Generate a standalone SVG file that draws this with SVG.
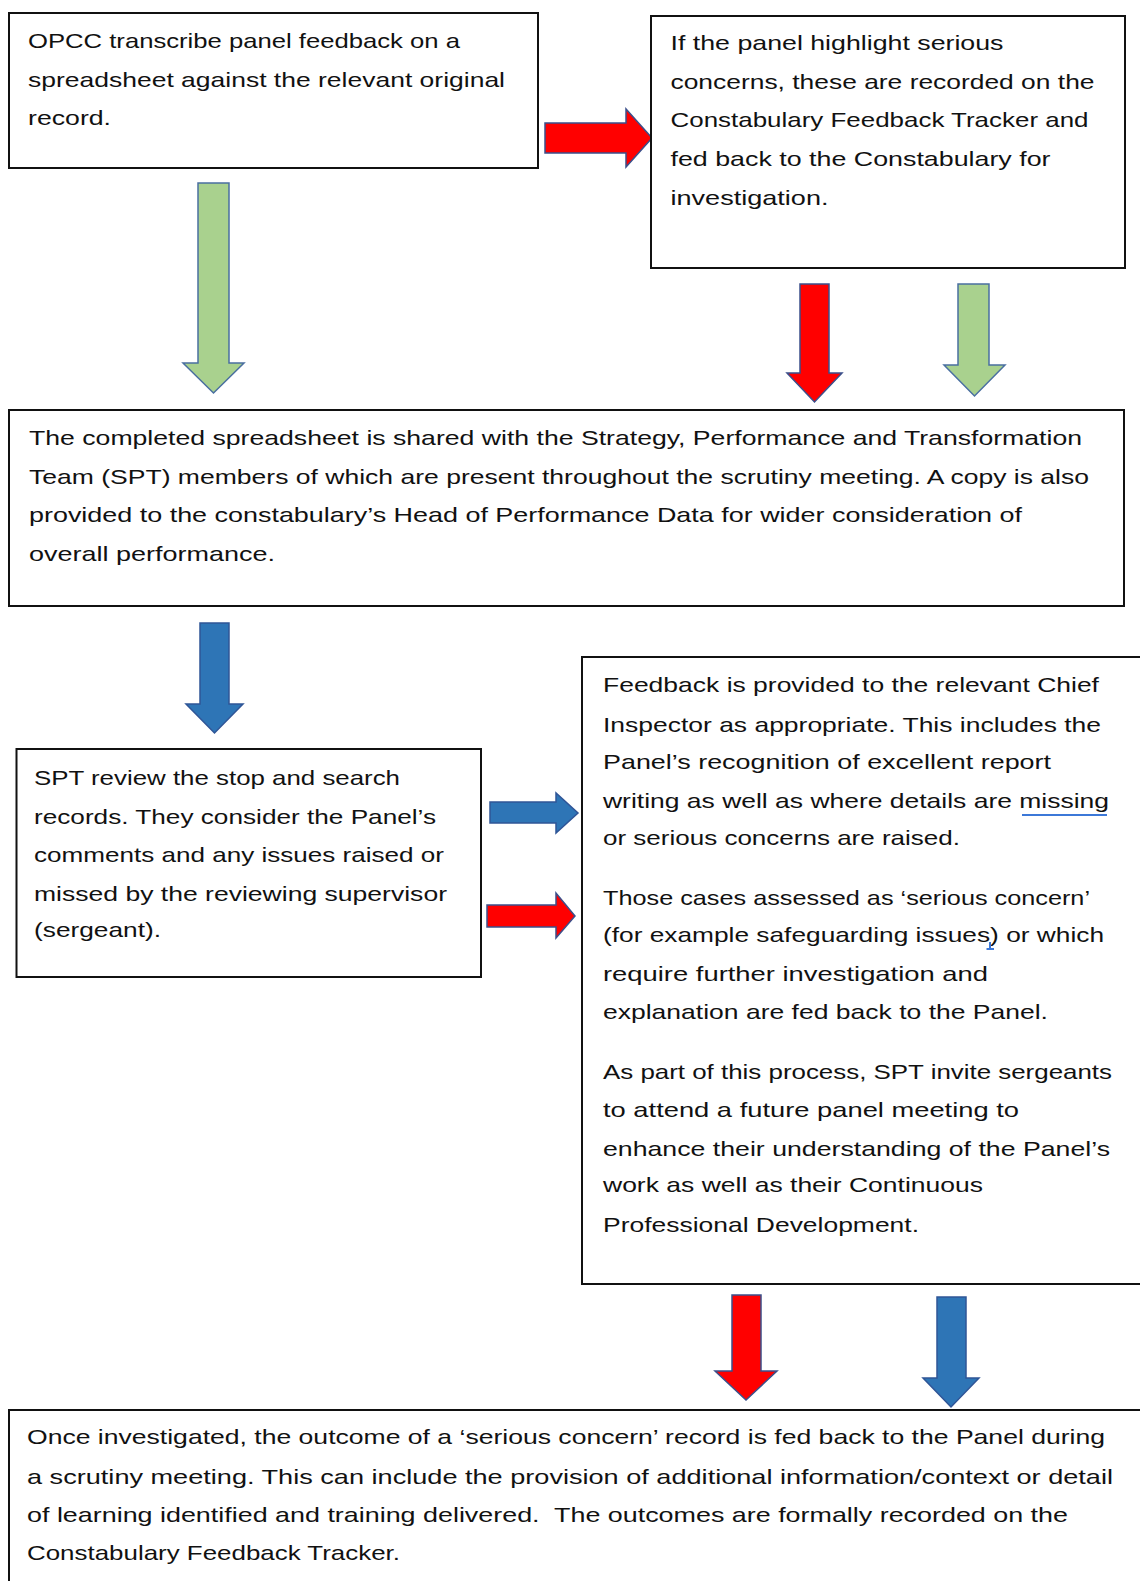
<svg xmlns="http://www.w3.org/2000/svg" width="1140" height="1581" viewBox="0 0 1140 1581">
<style>
.box{fill:#fff;stroke:#111;stroke-width:2}
.t{font-family:"Liberation Sans",Arial,sans-serif;font-size:21px;fill:#111;}
.red{fill:#ff0000;stroke:#3b4f8a;stroke-width:1.5;stroke-linejoin:miter}
.green{fill:#a9d18e;stroke:#4a6fa0;stroke-width:1.5}
.blue{fill:#2e75b6;stroke:#2f5597;stroke-width:1.5}
.ul{stroke:#3c78d8;stroke-width:2;fill:none}
</style>
<rect width="1140" height="1581" fill="#fff"/>
<g id="connectors">
<polygon class="green" points="198,183 229,183 229,363 244,363 213.5,393 183,363 198,363"/>
<polygon class="red" points="545,123 626,123 626,109 652,138 626,167 626,153 545,153"/>
<polygon class="red" points="800,284 829,284 829,373 842,373 814.5,402 787,373 800,373"/>
<polygon class="green" points="958,284 989,284 989,365 1005,365 974.5,396 944,365 958,365"/>
<polygon class="blue" points="200,623 229,623 229,704 243,704 214.5,733 186,704 200,704"/>
<polygon class="blue" points="490,802 556,802 556,793 578,813 556,833 556,823 490,823"/>
<polygon class="red" points="487,905 556,905 556,893 575,916 556,938 556,927 487,927"/>
<polygon class="red" points="732,1295 761,1295 761,1371 777,1371 746,1400 715,1371 732,1371"/>
<polygon class="blue" points="937,1297 966,1297 966,1378 979,1378 951,1407 923,1378 937,1378"/>
</g>
<g id="node1">
<rect class="box" x="9" y="13" width="529" height="155"/>
<text class="t" x="28" y="48" textLength="432" lengthAdjust="spacingAndGlyphs">OPCC transcribe panel feedback on a</text>
<text class="t" x="28" y="87" textLength="477" lengthAdjust="spacingAndGlyphs">spreadsheet against the relevant original</text>
<text class="t" x="28" y="125" textLength="83" lengthAdjust="spacingAndGlyphs">record.</text>
</g>
<g id="node2">
<rect class="box" x="651" y="16" width="474" height="252"/>
<text class="t" x="670.5" y="50" textLength="333" lengthAdjust="spacingAndGlyphs">If the panel highlight serious</text>
<text class="t" x="670.5" y="89" textLength="424" lengthAdjust="spacingAndGlyphs">concerns, these are recorded on the</text>
<text class="t" x="670.5" y="126.5" textLength="418" lengthAdjust="spacingAndGlyphs">Constabulary Feedback Tracker and</text>
<text class="t" x="670.5" y="166" textLength="380" lengthAdjust="spacingAndGlyphs">fed back to the Constabulary for</text>
<text class="t" x="670.5" y="205" textLength="158" lengthAdjust="spacingAndGlyphs">investigation.</text>
</g>
<g id="node3">
<rect class="box" x="9" y="410" width="1115" height="196"/>
<text class="t" x="29" y="445" textLength="1053" lengthAdjust="spacingAndGlyphs">The completed spreadsheet is shared with the Strategy, Performance and Transformation</text>
<text class="t" x="29" y="484" textLength="1060" lengthAdjust="spacingAndGlyphs">Team (SPT) members of which are present throughout the scrutiny meeting. A copy is also</text>
<text class="t" x="29" y="521.5" textLength="993" lengthAdjust="spacingAndGlyphs">provided to the constabulary’s Head of Performance Data for wider consideration of</text>
<text class="t" x="29" y="561" textLength="246" lengthAdjust="spacingAndGlyphs">overall performance.</text>
</g>
<g id="node4">
<rect class="box" x="16.5" y="749" width="464.5" height="228"/>
<text class="t" x="34" y="784.5" textLength="366" lengthAdjust="spacingAndGlyphs">SPT review the stop and search</text>
<text class="t" x="34" y="824" textLength="402" lengthAdjust="spacingAndGlyphs">records. They consider the Panel’s</text>
<text class="t" x="34" y="861.5" textLength="410" lengthAdjust="spacingAndGlyphs">comments and any issues raised or</text>
<text class="t" x="34" y="900.5" textLength="413" lengthAdjust="spacingAndGlyphs">missed by the reviewing supervisor</text>
<text class="t" x="34" y="937" textLength="127" lengthAdjust="spacingAndGlyphs">(sergeant).</text>
</g>
<g id="node5">
<rect class="box" x="582" y="657" width="580" height="627"/>
<text class="t" x="603" y="692" textLength="496" lengthAdjust="spacingAndGlyphs">Feedback is provided to the relevant Chief</text>
<text class="t" x="603" y="731.5" textLength="498" lengthAdjust="spacingAndGlyphs">Inspector as appropriate. This includes the</text>
<text class="t" x="603" y="768.5" textLength="448" lengthAdjust="spacingAndGlyphs">Panel’s recognition of excellent report</text>
<text class="t" x="603" y="808" textLength="506" lengthAdjust="spacingAndGlyphs">writing as well as where details are missing</text>
<line class="ul" x1="1022" y1="815" x2="1107" y2="815"/>
<text class="t" x="603" y="845" textLength="357" lengthAdjust="spacingAndGlyphs">or serious concerns are raised.</text>
<text class="t" x="603" y="904.5" textLength="487" lengthAdjust="spacingAndGlyphs">Those cases assessed as ‘serious concern’</text>
<text class="t" x="603" y="942" textLength="501" lengthAdjust="spacingAndGlyphs">(for example safeguarding issues) or which</text>
<path class="ul" d="M990 942 V949 M986.5 949 H994" stroke-width="1.5"/>
<text class="t" x="603" y="981" textLength="385" lengthAdjust="spacingAndGlyphs">require further investigation and</text>
<text class="t" x="603" y="1018.5" textLength="445" lengthAdjust="spacingAndGlyphs">explanation are fed back to the Panel.</text>
<text class="t" x="603" y="1079" textLength="509" lengthAdjust="spacingAndGlyphs">As part of this process, SPT invite sergeants</text>
<text class="t" x="603" y="1116.5" textLength="416" lengthAdjust="spacingAndGlyphs">to attend a future panel meeting to</text>
<text class="t" x="603" y="1155.5" textLength="507" lengthAdjust="spacingAndGlyphs">enhance their understanding of the Panel’s</text>
<text class="t" x="603" y="1192" textLength="380" lengthAdjust="spacingAndGlyphs">work as well as their Continuous</text>
<text class="t" x="603" y="1231.5" textLength="316" lengthAdjust="spacingAndGlyphs">Professional Development.</text>
</g>
<g id="node6">
<rect class="box" x="9" y="1410" width="1160" height="200"/>
<text class="t" x="27" y="1444" textLength="1078" lengthAdjust="spacingAndGlyphs">Once investigated, the outcome of a ‘serious concern’ record is fed back to the Panel during</text>
<text class="t" x="27" y="1484" textLength="1086" lengthAdjust="spacingAndGlyphs">a scrutiny meeting. This can include the provision of additional information/context or detail</text>
<text class="t" x="27" y="1521.5" textLength="1041" lengthAdjust="spacingAndGlyphs">of learning identified and training delivered.&#160; The outcomes are formally recorded on the</text>
<text class="t" x="27" y="1560" textLength="373" lengthAdjust="spacingAndGlyphs">Constabulary Feedback Tracker.</text>
</g>
</svg>
